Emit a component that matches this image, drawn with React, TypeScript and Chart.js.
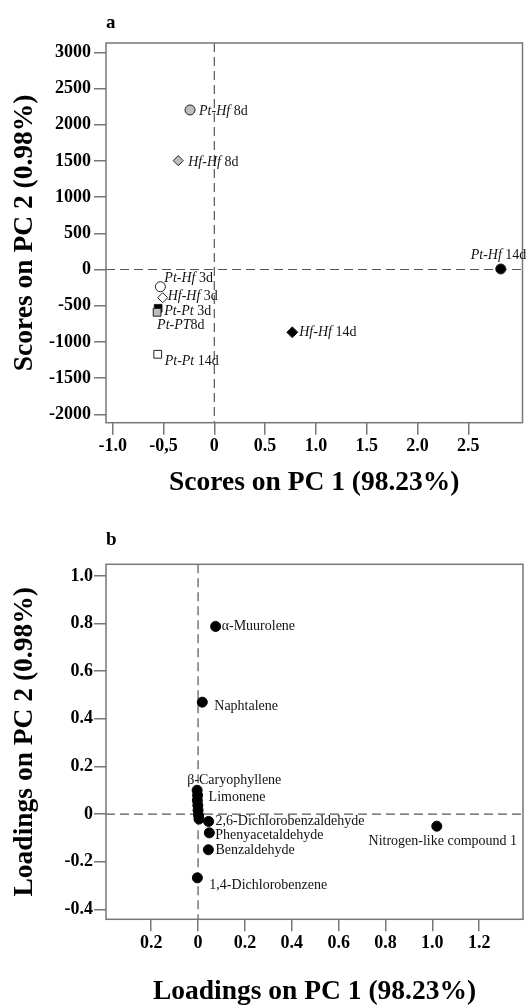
import React, { useEffect, useRef } from "react";
import { Chart, registerables } from "chart.js";

Chart.register(...registerables);

const FONT = "'Liberation Serif', 'Times New Roman', serif";

// ---------- Panel a: scores ----------
const scoreSpecies = ["Pt-Hf", "Hf-Hf", "Pt-Hf", "Hf-Hf", "Pt-Pt", "Pt-PT", "Pt-Pt", "Hf-Hf", "Pt-Hf"];
const scoreDays = [" 8d", " 8d", " 3d", " 3d", " 3d", "8d", " 14d", " 14d", " 14d"];
const scorePC1 = [-0.239, -0.355, -0.531, -0.508, -0.553, -0.563, -0.557, 0.767, 2.819];
const scorePC2 = [2203, 1503, -238, -390, -536, -591, -1171, -867, 7];
const scoreTickX = [-1, -0.5, 0, 0.5, 1, 1.5, 2, 2.5];
const scoreTickXLabels = ["-1.0", "-0,5", "0", "0.5", "1.0", "1.5", "2.0", "2.5"];
const scoreTickY = [3000, 2500, 2000, 1500, 1000, 500, 0, -500, -1000, -1500, -2000];
const scoreTickYLabels = ["3000", "2500", "2000", "1500", "1000", "500", "0", "-500", "-1000", "-1500", "-2000"];

// ---------- Panel b: loadings ----------
const loadingNames = [
  "α-Muurolene", "Naphtalene", "β-Caryophyllene", "Limonene", "", "", "", "", "",
  "2,6-Dichlorobenzaldehyde", "Phenyacetaldehyde", "Benzaldehyde", "1,4-Dichlorobenzene", "Nitrogen-like compound 1",
];
const loadingPC1 = [0.075, 0.018, -0.004, -0.002, -0.003, -0.001, 0.0, 0.002, 0.004, 0.045, 0.048, 0.044, -0.003, 1.019];
const loadingPC2 = [0.788, 0.47, 0.1, 0.079, 0.058, 0.037, 0.016, -0.005, -0.021, -0.031, -0.079, -0.15, -0.268, -0.051];
const loadingTickX = [-0.2, 0, 0.2, 0.4, 0.6, 0.8, 1.0, 1.2];
const loadingTickXLabels = ["0.2", "0", "0.2", "0.4", "0.6", "0.8", "1.0", "1.2"];
const loadingTickY = [1.0, 0.8, 0.6, 0.4, 0.2, 0, -0.2, -0.4];
const loadingTickYLabels = ["1.0", "0.8", "0.6", "0.4", "0.2", "0", "-0.2", "-0.4"];

// ---------- styles ----------
const scoreMarkers = [
  { style: "circle", fill: "#bdbdbd", r: 5 },
  { style: "rectRot", fill: "#bdbdbd", r: 5 },
  { style: "circle", fill: "#ffffff", r: 5 },
  { style: "rectRot", fill: "#ffffff", r: 5 },
  { style: "rect", fill: "#000000", r: 5.5 },
  { style: "rect", fill: "#bdbdbd", r: 5.5 },
  { style: "rect", fill: "#ffffff", r: 5.5 },
  { style: "rectRot", fill: "#000000", r: 5.5 },
  { style: "circle", fill: "#000000", r: 5 },
];
const scoreLabelPlace = [
  { dx: 9, dy: 1 }, { dx: 10, dy: 2 }, { dx: 4, dy: -8 }, { dx: 5, dy: -1 }, { dx: 6, dy: 3 },
  { dx: 0, dy: 13 }, { dx: 7, dy: 7 }, { dx: 7, dy: 0 }, { dx: -30, dy: -14 },
];
const loadingLabelPlace = [
  { dx: 6, dy: 0, align: "left" }, { dx: 12, dy: 4, align: "left" }, { dx: -10, dy: -10, align: "left" },
  { dx: 11, dy: 2, align: "left" }, null, null, null, null, null,
  { dx: 7, dy: 0, align: "left" }, { dx: 6, dy: 2, align: "left" }, { dx: 7, dy: 1, align: "left" },
  { dx: 12, dy: 7, align: "left" }, { dx: 6, dy: 15, align: "center" },
];

type Part = { text: string; italic?: boolean };
type LabelItem = { parts: Part[]; dx: number; dy: number; align?: string } | null;

function labelPlugin(items: LabelItem[], size: number) {
  return {
    id: "pointLabels",
    afterDatasetsDraw(chart: any) {
      const ctx = chart.ctx as CanvasRenderingContext2D;
      const meta = chart.getDatasetMeta(0);
      ctx.save();
      ctx.textBaseline = "middle";
      ctx.textAlign = "left";
      ctx.fillStyle = "#111";
      items.forEach((it, i) => {
        const el = meta.data[i];
        if (!it || !el) return;
        const fonts = it.parts.map((p) => `${p.italic ? "italic " : ""}${size}px ${FONT}`);
        const widths = it.parts.map((p, k) => {
          ctx.font = fonts[k];
          return ctx.measureText(p.text).width;
        });
        const total = widths.reduce((a, b) => a + b, 0);
        let x = el.x + it.dx;
        if (it.align === "right") x -= total;
        else if (it.align === "center") x -= total / 2;
        const y = el.y + it.dy;
        it.parts.forEach((p, k) => {
          ctx.font = fonts[k];
          ctx.fillText(p.text, x, y);
          x += widths[k];
        });
      });
      ctx.restore();
    },
  };
}

function framePlugin(letter: string, letterBaseline: number) {
  return {
    id: "frame",
    beforeDatasetsDraw(chart: any) {
      const ctx = chart.ctx as CanvasRenderingContext2D;
      const a = chart.chartArea;
      const x0 = chart.scales.x.getPixelForValue(0);
      const y0 = chart.scales.y.getPixelForValue(0);
      ctx.save();
      ctx.strokeStyle = "#555";
      ctx.lineWidth = 1.2;
      ctx.setLineDash([9, 5]);
      ctx.beginPath();
      ctx.moveTo(x0, a.top);
      ctx.lineTo(x0, a.bottom);
      ctx.moveTo(a.left, y0);
      ctx.lineTo(a.right, y0);
      ctx.stroke();
      ctx.setLineDash([]);
      ctx.strokeStyle = "#777";
      ctx.lineWidth = 1.5;
      ctx.strokeRect(a.left, a.top, a.right - a.left, a.bottom - a.top);
      ctx.fillStyle = "#000";
      ctx.font = `bold 19px ${FONT}`;
      ctx.textBaseline = "alphabetic";
      ctx.textAlign = "left";
      ctx.fillText(letter, a.left, letterBaseline);
      ctx.restore();
    },
  };
}

function makeScales(cfg: {
  xMin: number; xMax: number; yMin: number; yMax: number;
  xTicks: number[]; xLabels: string[]; yTicks: number[]; yLabels: string[];
  xTitle: string; yTitle: string; xHeight: number; xTitlePadBottom: number; yTickPad: number;
}) {
  const tickFont = { family: FONT, size: 18, weight: "bold" as const };
  const titleFont = { family: FONT, size: 27.5, weight: "bold" as const, lineHeight: 1 };
  const grid = { drawOnChartArea: false, drawTicks: true, tickLength: 12, color: "#777", lineWidth: 1.5 };
  return {
    x: {
      type: "linear" as const,
      min: cfg.xMin,
      max: cfg.xMax,
      afterBuildTicks: (s: any) => { s.ticks = cfg.xTicks.map((value) => ({ value })); },
      afterFit: (s: any) => { s.height = cfg.xHeight; },
      grid,
      border: { display: false },
      ticks: {
        font: tickFont, color: "#000", padding: 1, maxRotation: 0, autoSkip: false,
        callback: (_v: any, i: number) => cfg.xLabels[i],
      },
      title: { display: true, text: cfg.xTitle, font: titleFont, color: "#000", padding: { top: 0, bottom: cfg.xTitlePadBottom } },
    },
    y: {
      type: "linear" as const,
      min: cfg.yMin,
      max: cfg.yMax,
      afterBuildTicks: (s: any) => { s.ticks = cfg.yTicks.map((value) => ({ value })); },
      afterFit: (s: any) => { s.width = 106; },
      grid,
      border: { display: false },
      ticks: {
        font: tickFont, color: "#000", padding: cfg.yTickPad, autoSkip: false,
        callback: (_v: any, i: number) => cfg.yLabels[i],
      },
      title: { display: true, text: cfg.yTitle, font: titleFont, color: "#000", padding: { top: 11.5, bottom: 0 } },
    },
  };
}

function ScoresChart() {
  const ref = useRef<HTMLCanvasElement>(null);
  useEffect(() => {
    if (!ref.current) return;
    const items: LabelItem[] = scoreSpecies.map((sp, i) => ({
      parts: [{ text: sp, italic: true }, { text: scoreDays[i] }],
      dx: scoreLabelPlace[i].dx,
      dy: scoreLabelPlace[i].dy,
      align: "left",
    }));
    const chart = new Chart(ref.current, {
      type: "scatter",
      data: {
        datasets: [{
          data: scorePC1.map((x, i) => ({ x, y: scorePC2[i] })),
          pointStyle: scoreMarkers.map((m) => m.style) as any,
          backgroundColor: scoreMarkers.map((m) => m.fill),
          borderColor: "#222",
          borderWidth: 1,
          pointRadius: scoreMarkers.map((m) => m.r),
        }],
      },
      options: {
        animation: false,
        responsive: false,
        events: [],
        layout: { padding: { top: 43, right: 2, bottom: 0, left: 0 } },
        plugins: { legend: { display: false }, tooltip: { enabled: false } },
        scales: makeScales({
          xMin: -1.066, xMax: 3.033, yMin: -2116, yMax: 3128,
          xTicks: scoreTickX, xLabels: scoreTickXLabels, yTicks: scoreTickY, yLabels: scoreTickYLabels,
          xTitle: "Scores on PC 1 (98.23%)", yTitle: "Scores on PC 2 (0.98%)",
          xHeight: 77.3, xTitlePadBottom: 3.5, yTickPad: 3,
        }) as any,
      },
      plugins: [framePlugin("a", 28), labelPlugin(items, 14)],
    });
    return () => chart.destroy();
  }, []);
  return <canvas ref={ref} width={529} height={500} style={{ display: "block" }} />;
}

function LoadingsChart() {
  const ref = useRef<HTMLCanvasElement>(null);
  useEffect(() => {
    if (!ref.current) return;
    const items: LabelItem[] = loadingNames.map((name, i) => {
      const p = loadingLabelPlace[i];
      if (!name || !p) return null;
      return { parts: [{ text: name }], dx: p.dx, dy: p.dy, align: p.align };
    });
    const chart = new Chart(ref.current, {
      type: "scatter",
      data: {
        datasets: [{
          data: loadingPC1.map((x, i) => ({ x, y: loadingPC2[i] })),
          pointStyle: "circle",
          backgroundColor: "#000",
          borderColor: "#000",
          borderWidth: 1,
          pointRadius: 5,
        }],
      },
      options: {
        animation: false,
        responsive: false,
        events: [],
        layout: { padding: { top: 64.3, right: 2, bottom: 0, left: 0 } },
        plugins: { legend: { display: false }, tooltip: { enabled: false } },
        scales: makeScales({
          xMin: -0.393, xMax: 1.387, yMin: -0.442, yMax: 1.049,
          xTicks: loadingTickX, xLabels: loadingTickXLabels, yTicks: loadingTickY, yLabels: loadingTickYLabels,
          xTitle: "Loadings on PC 1 (98.23%)", yTitle: "Loadings on PC 2 (0.98%)",
          xHeight: 86.7, xTitlePadBottom: 0, yTickPad: 1,
        }) as any,
      },
      plugins: [framePlugin("b", 45), labelPlugin(items, 14)],
    });
    return () => chart.destroy();
  }, []);
  return <canvas ref={ref} width={529} height={506} style={{ display: "block" }} />;
}

export default function App() {
  return (
    <div style={{ position: "absolute", left: 0, top: 0, width: 529, height: 1006, background: "#fff" }}>
      <ScoresChart />
      <LoadingsChart />
    </div>
  );
}
